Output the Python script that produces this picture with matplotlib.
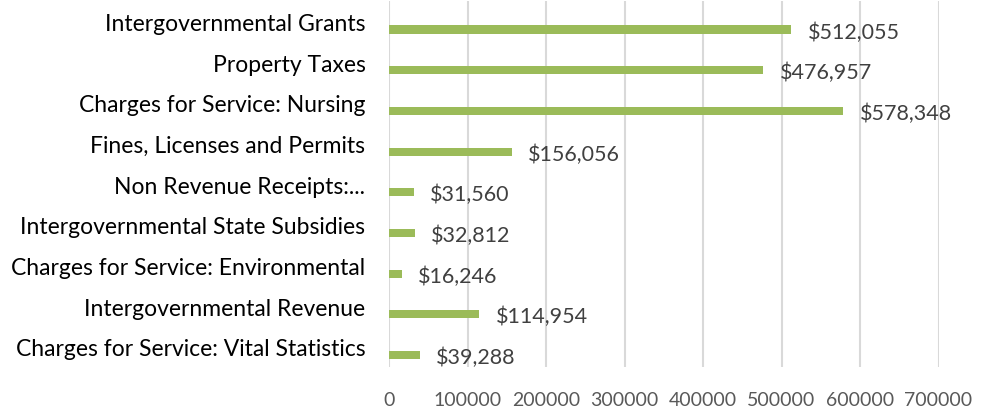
import matplotlib.pyplot as plt

# Revenue categories, top to bottom as shown
categories = [
    "Intergovernmental Grants",
    "Property Taxes",
    "Charges for Service: Nursing",
    "Fines, Licenses and Permits",
    "Non Revenue Receipts:...",
    "Intergovernmental State Subsidies",
    "Charges for Service: Environmental",
    "Intergovernmental Revenue",
    "Charges for Service: Vital Statistics",
]
amounts = [512055, 476957, 578348, 156056, 31560, 32812, 16246, 114954, 39288]
xticks = [0, 100000, 200000, 300000, 400000, 500000, 600000, 700000]

plt.rcParams["font.family"] = ["Lato", "DejaVu Sans"]

fig = plt.figure(figsize=(9.9, 4.1), dpi=100)
ax = fig.add_axes([0.393, 0.102, 0.555, 0.893])

ypos = list(range(len(categories)))
# bars sit a bit below the slot centre (like an Excel clustered bar)
bar_y = [y + 0.2 for y in ypos]
ax.barh(bar_y, amounts, height=0.2, color="#9BBB59", zorder=3)

for y, v in zip(bar_y, amounts):
    ax.text(v + 21000, y + 0.05, f"${v:,}", va="center", ha="left",
            fontsize=15.5, color="#404040")

ax.set_xlim(0, 700000)
ax.set_ylim(len(categories) - 0.5, -0.5)
ax.set_yticks(ypos)
ax.set_yticklabels(categories, fontsize=16.5, color="#000000")
ax.set_xticks(xticks)
ax.set_xticklabels([str(t) for t in xticks], fontsize=14, color="#595959")
ax.tick_params(axis="both", length=0)
ax.tick_params(axis="y", pad=17)
ax.tick_params(axis="x", pad=17)

ax.grid(axis="x", color="#D9D9D9", linewidth=1.5, zorder=0)
for s in ax.spines.values():
    s.set_visible(False)

fig.savefig("out.png", dpi=100)
